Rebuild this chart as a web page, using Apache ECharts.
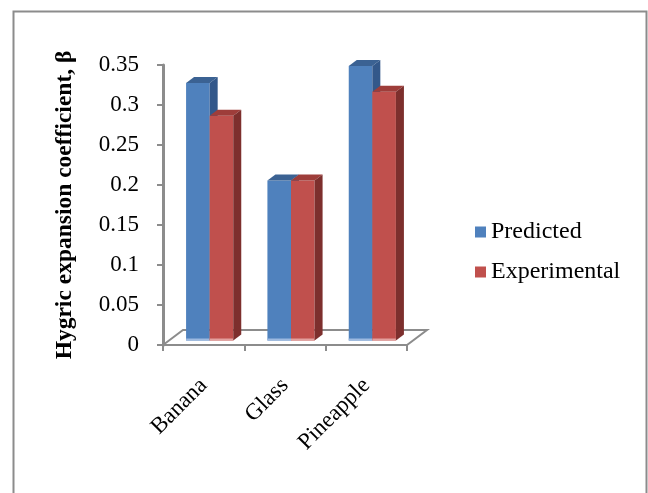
<!DOCTYPE html>
<html>
<head>
<meta charset="utf-8">
<script src="https://cdn.jsdelivr.net/npm/echarts@6/dist/echarts.min.js"></script>
<style>
  html, body { margin: 0; padding: 0; background: #ffffff; }
  #chart { width: 648px; height: 493px; }
</style>
</head>
<body>
<div id="chart"></div>
<script>
// Hygric expansion coefficient per material
const categories = ['Banana', 'Glass', 'Pineapple'];
const predicted = [0.322, 0.2, 0.343];
const experimental = [0.281, 0.2, 0.311];
const seriesNames = ['Predicted', 'Experimental'];

// Oblique "3D" look: floor depth vector and where the bars sit inside it
const FLOOR_DX = 20, FLOOR_DY = -15;
const BAR_OFFSET = 0.3, BAR_DEPTH = 0.4;
const BAR_FRACTION = 0.29;
const AXIS_GREY = '#8c8c8c';
const FONT = "'Liberation Serif', 'Times New Roman', serif";

const palettes = [
  { front: '#4F81BD', top: '#3B6293', side: '#33588A', foot: '#9DB9E0' },
  { front: '#C0504D', top: '#9E3D3A', side: '#7D2F2D', foot: '#E3A09E' }
];

function barRenderer(pos, colors) {
  return function (params, api) {
    const ci = api.value(0);
    const v = api.value(1);
    const band = api.size([1, 0])[0];
    const w = band * BAR_FRACTION;
    const base = api.coord([ci, 0]);
    const top = api.coord([ci, v]);
    const ox = FLOOR_DX * BAR_OFFSET, oy = FLOOR_DY * BAR_OFFSET;
    const dx = FLOOR_DX * BAR_DEPTH, dy = FLOOR_DY * BAR_DEPTH;
    const x0 = base[0] + (pos === 0 ? -w : 0) + ox;
    const x1 = x0 + w;
    const yb = base[1] + oy;
    const yt = top[1] + oy;
    return {
      type: 'group',
      children: [
        { type: 'rect', shape: { x: x0, y: yt, width: w, height: yb - yt }, style: { fill: colors.front } },
        { type: 'rect', shape: { x: x0, y: yb - 2, width: w, height: 2 }, style: { fill: colors.foot } },
        { type: 'polygon', shape: { points: [[x0, yt], [x0 + dx, yt + dy], [x1 + dx, yt + dy], [x1, yt]] }, style: { fill: colors.top } },
        { type: 'polygon', shape: { points: [[x1, yt], [x1 + dx, yt + dy], [x1 + dx, yb + dy], [x1, yb]] }, style: { fill: colors.side } }
      ]
    };
  };
}

function floorRenderer(params) {
  const cs = params.coordSys;
  const yb = cs.y + cs.height, xl = cs.x, xr = cs.x + cs.width;
  return {
    type: 'polygon',
    shape: { points: [[xl, yb], [xl + FLOOR_DX, yb + FLOOR_DY], [xr + FLOOR_DX, yb + FLOOR_DY], [xr, yb]] },
    style: { fill: 'none', stroke: AXIS_GREY, lineWidth: 2 }
  };
}

const chart = echarts.init(document.getElementById('chart'), null, { renderer: 'canvas' });

chart.setOption({
  backgroundColor: '#ffffff',
  animation: false,
  graphic: [{
    type: 'rect',
    left: 11, top: 9,
    shape: { width: 633, height: 520 },
    style: { fill: 'none', stroke: AXIS_GREY, lineWidth: 2 },
    z: 100
  }],
  grid: { left: 163, top: 65, width: 244, height: 280 },
  legend: {
    orient: 'vertical',
    left: 475, top: 220,
    padding: 0,
    icon: 'rect',
    itemWidth: 11, itemHeight: 11,
    itemGap: 16,
    data: seriesNames,
    textStyle: { fontFamily: FONT, fontSize: 24, color: '#000', lineHeight: 24 }
  },
  xAxis: {
    type: 'category',
    data: categories,
    boundaryGap: true,
    axisLine: { lineStyle: { color: AXIS_GREY, width: 2 } },
    axisTick: { show: true, length: 6, lineStyle: { color: AXIS_GREY, width: 2 } },
    axisLabel: { rotate: 45, margin: 37, fontFamily: FONT, fontSize: 23, color: '#000', interval: 0 }
  },
  yAxis: {
    type: 'value',
    min: 0, max: 0.35, interval: 0.05,
    name: 'Hygric expansion coefficient, β',
    nameLocation: 'middle',
    nameRotate: 90,
    nameGap: 86,
    nameTextStyle: { fontFamily: FONT, fontSize: 23.5, fontWeight: 'bold', color: '#000' },
    axisLine: { show: true, lineStyle: { color: AXIS_GREY, width: 3 } },
    axisTick: { show: true, length: 6, lineStyle: { color: AXIS_GREY, width: 2 } },
    splitLine: { show: false },
    axisLabel: {
      margin: 24, fontFamily: FONT, fontSize: 23, color: '#000',
      formatter: function (v) { return String(+v.toFixed(2)); }
    }
  },
  series: [
    { type: 'custom', name: 'floor', data: [[0, 0]], renderItem: floorRenderer, silent: true, z: 1 },
    {
      type: 'custom', name: seriesNames[0], z: 2,
      itemStyle: { color: palettes[0].front },
      encode: { x: 0, y: 1 },
      data: predicted.map((v, i) => [i, v]),
      renderItem: barRenderer(0, palettes[0])
    },
    {
      type: 'custom', name: seriesNames[1], z: 3,
      itemStyle: { color: palettes[1].front },
      encode: { x: 0, y: 1 },
      data: experimental.map((v, i) => [i, v]),
      renderItem: barRenderer(1, palettes[1])
    }
  ]
});
</script>
</body>
</html>
